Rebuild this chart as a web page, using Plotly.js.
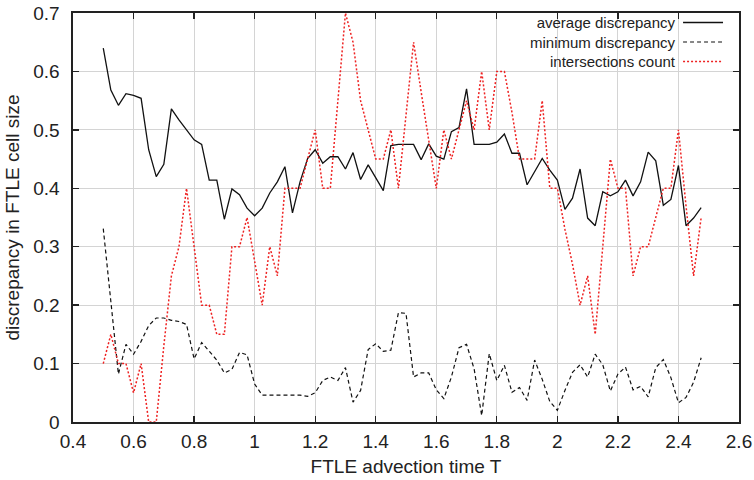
<!DOCTYPE html>
<html>
<head>
<meta charset="utf-8">
<script src="https://cdn.plot.ly/plotly-3.0.1.min.js"></script>
<style>html,body{margin:0;padding:0;background:#fff;}#chart{width:754px;height:480px;}</style>
</head>
<body>
<div id="chart"></div>
<script>
// advection time T (0.5 .. 2.475, step 0.025)
const T = [0.5,0.525,0.55,0.575,0.6,0.625,0.65,0.675,0.7,0.725,0.75,0.775,0.8,0.825,0.85,0.875,0.9,0.925,0.95,0.975,
  1.0,1.025,1.05,1.075,1.1,1.125,1.15,1.175,1.2,1.225,1.25,1.275,1.3,1.325,1.35,1.375,1.4,1.425,1.45,1.475,
  1.5,1.525,1.55,1.575,1.6,1.625,1.65,1.675,1.7,1.725,1.75,1.775,1.8,1.825,1.85,1.875,1.9,1.925,1.95,1.975,
  2.0,2.025,2.05,2.075,2.1,2.125,2.15,2.175,2.2,2.225,2.25,2.275,2.3,2.325,2.35,2.375,2.4,2.425,2.45,2.475];

const averageDiscrepancy = [0.640,0.568,0.542,0.562,0.559,0.554,0.466,0.420,0.441,0.536,0.517,0.500,0.483,0.475,0.414,0.414,0.347,0.399,0.389,0.366,
  0.353,0.366,0.392,0.411,0.437,0.358,0.411,0.451,0.466,0.443,0.454,0.454,0.433,0.461,0.415,0.440,0.418,0.396,0.473,0.475,
  0.475,0.475,0.449,0.476,0.455,0.450,0.497,0.504,0.570,0.475,0.475,0.475,0.479,0.493,0.460,0.460,0.406,0.428,0.451,0.431,
  0.414,0.364,0.383,0.433,0.349,0.336,0.394,0.387,0.394,0.414,0.387,0.411,0.462,0.447,0.371,0.381,0.439,0.336,0.349,0.367];

const minimumDiscrepancy = [0.331,0.21,0.082,0.133,0.116,0.138,0.165,0.178,0.178,0.174,0.172,0.167,0.108,0.136,0.120,0.106,0.084,0.090,0.119,0.115,
  0.065,0.046,0.046,0.046,0.046,0.047,0.046,0.044,0.050,0.071,0.077,0.071,0.093,0.034,0.054,0.124,0.134,0.121,0.123,0.187,
  0.186,0.077,0.084,0.084,0.055,0.040,0.077,0.127,0.133,0.091,0.011,0.117,0.071,0.097,0.051,0.059,0.037,0.106,0.073,0.035,
  0.020,0.054,0.085,0.098,0.077,0.116,0.098,0.053,0.082,0.094,0.055,0.061,0.043,0.093,0.107,0.076,0.033,0.042,0.068,0.110];

const intersectionsCount = [0.10,0.15,0.10,0.10,0.05,0.10,0.00,0.00,0.13,0.25,0.30,0.40,0.30,0.20,0.20,0.15,0.15,0.30,0.30,0.35,
  0.275,0.20,0.30,0.25,0.40,0.40,0.40,0.45,0.50,0.40,0.40,0.55,0.70,0.65,0.55,0.50,0.45,0.45,0.50,0.40,
  0.525,0.65,0.565,0.485,0.40,0.50,0.45,0.50,0.55,0.50,0.60,0.50,0.60,0.60,0.53,0.45,0.45,0.45,0.55,0.40,
  0.40,0.33,0.27,0.20,0.25,0.15,0.30,0.45,0.40,0.40,0.25,0.30,0.30,0.35,0.40,0.40,0.50,0.37,0.25,0.35];

const seriesNames = ["average discrepancy", "minimum discrepancy", "intersections count"];
const xTickVals = [0.4,0.6,0.8,1.0,1.2,1.4,1.6,1.8,2.0,2.2,2.4,2.6];
const xTickText = ["0.4","0.6","0.8","1","1.2","1.4","1.6","1.8","2","2.2","2.4","2.6"];
const yTickVals = [0,0.1,0.2,0.3,0.4,0.5,0.6,0.7];
const yTickText = ["0","0.1","0.2","0.3","0.4","0.5","0.6","0.7"];

const FONT = "Liberation Sans, Arial, Helvetica, sans-serif";
const RED = "#ee2222";
const styles = [
  {color: "#111111", width: 1.3, dash: "solid"},
  {color: "#111111", width: 1.2, dash: "4px,3px"},
  {color: RED, width: 1.5, dash: "2px,2px"}
];
const seriesData = [averageDiscrepancy, minimumDiscrepancy, intersectionsCount];

const traces = seriesData.map((ys, i) => ({
  type: "scatter", mode: "lines", x: T, y: ys, name: seriesNames[i],
  line: styles[i], showlegend: false, hoverinfo: "skip"
}));

// legend drawn gnuplot-style: right-aligned text block, sample lines on the right
const legendY = [0.9768, 0.9291, 0.8814];
const annotations = [{
  xref: "paper", yref: "paper", x: 0.907, y: legendY[1], xanchor: "right", yanchor: "middle", align: "right",
  text: seriesNames.join("<br>"), showarrow: false, borderpad: 0,
  font: {family: FONT, size: 15, color: "#222"}
}];
const shapes = seriesNames.map((name, i) => ({
  type: "line", xref: "paper", yref: "paper", x0: 0.916, x1: 0.976, y0: legendY[i], y1: legendY[i],
  line: {color: styles[i].color, width: styles[i].width, dash: styles[i].dash}
}));

const axisCommon = {
  showline: true, linecolor: "#222", linewidth: 1.6, mirror: "ticks",
  ticks: "inside", ticklen: 6, tickwidth: 1.3, tickcolor: "#222",
  showgrid: true, gridcolor: "#d4d4d4", gridwidth: 1, zeroline: false,
  tickfont: {family: FONT, size: 19, color: "#222"}, tickmode: "array"
};

const layout = {
  width: 754, height: 480,
  margin: {l: 73, r: 15, t: 13, b: 58},
  paper_bgcolor: "#fff", plot_bgcolor: "#fff",
  font: {family: FONT, color: "#222"},
  xaxis: Object.assign({}, axisCommon, {
    range: [0.4, 2.6], tickvals: xTickVals, ticktext: xTickText, ticklabelstandoff: 2,
    title: {text: "FTLE advection time T", font: {family: FONT, size: 19, color: "#222"}, standoff: 8}
  }),
  yaxis: Object.assign({}, axisCommon, {
    range: [0, 0.7], tickvals: yTickVals, ticktext: yTickText, ticklabelstandoff: 8,
    title: {text: "discrepancy in FTLE cell size", font: {family: FONT, size: 19, color: "#222"}, standoff: 8}
  }),
  annotations: annotations,
  shapes: shapes,
  showlegend: false
};

Plotly.newPlot("chart", traces, layout, {staticPlot: true, displayModeBar: false});
</script>
</body>
</html>
